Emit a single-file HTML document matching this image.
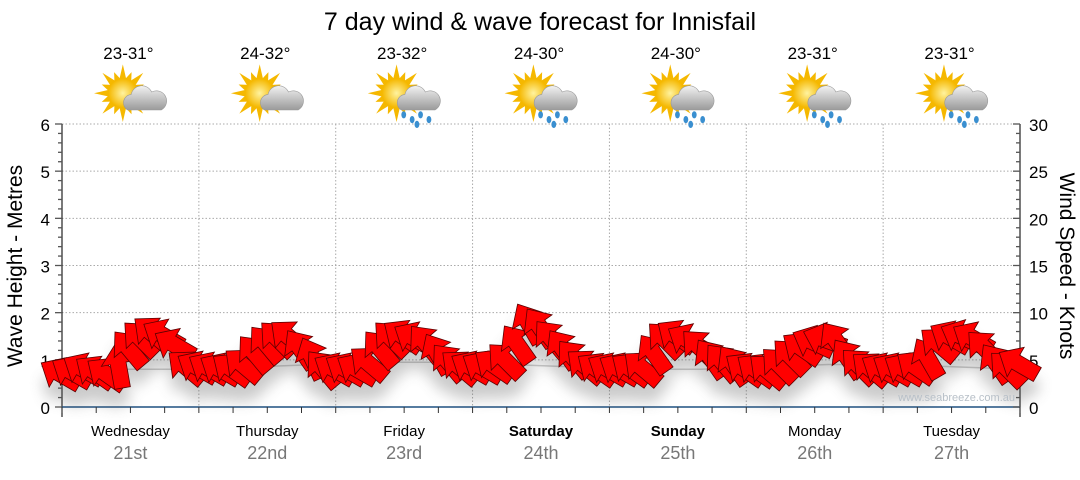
<!DOCTYPE html>
<html><head><meta charset="utf-8"><style>
body{margin:0;background:#fff;}
svg text{font-family:"Liberation Sans",sans-serif;}
</style></head><body>
<svg id="c" width="1080" height="475" xmlns="http://www.w3.org/2000/svg">
<defs>
<filter id="sh" x="-20%" y="-50%" width="140%" height="200%"><feGaussianBlur stdDeviation="7"/></filter>
<radialGradient id="sun" cx="50%" cy="50%" r="50%"><stop offset="0" stop-color="#fff3a0"/><stop offset="1" stop-color="#f5b800"/></radialGradient>
<linearGradient id="cloud" x1="0" y1="0" x2="0" y2="1"><stop offset="0" stop-color="#f2f2f2"/><stop offset="1" stop-color="#9a9a9a"/></linearGradient>
</defs>
<text x="540" y="30" font-size="25" text-anchor="middle" fill="#000">7 day wind &amp; wave forecast for Innisfail</text>
<g id="grid"></g><g id="axes"></g><g id="icons"></g><g id="shadow" filter="url(#sh)" opacity="0.3"></g><g id="arrows"></g>
<text x="1015" y="401" font-size="11" text-anchor="end" fill="#b8c0c8">www.seabreeze.com.au</text>
<text transform="translate(22,266) rotate(-90)" font-size="21" text-anchor="middle">Wave Height - Metres</text>
<text transform="translate(1060,266) rotate(90)" font-size="21" text-anchor="middle">Wind Speed - Knots</text>
</svg>
<script>
const days=["Wednesday","Thursday","Friday","Saturday","Sunday","Monday","Tuesday"];
const dates=["21st","22nd","23rd","24th","25th","26th","27th"];
const temps=["23-31°","24-32°","23-32°","24-30°","24-30°","23-31°","23-31°"];
const rainy=[false,false,true,true,true,true,true];
const boldDays=[false,false,false,true,true,false,false];
const windSpeed=[3.4,3.6,3.9,3.6,3.4,4.1,6.0,7.1,7.7,7.5,6.5,4.1,
4.1,4.0,3.9,3.9,4.3,5.5,6.5,7.1,7.3,6.0,5.0,3.9,
3.9,3.9,3.9,4.5,6.0,7.1,7.4,7.2,6.6,5.5,4.6,4.1,
4.1,4.1,4.3,4.8,6.5,8.7,8.3,7.1,6.0,5.0,4.2,3.9,
3.9,3.9,3.9,4.0,5.5,7.0,7.4,7.0,6.2,5.0,4.6,4.3,
3.9,3.8,3.7,4.3,5.2,6.1,6.8,7.1,6.8,5.0,4.2,3.9,
3.9,3.9,3.9,4.1,5.0,6.5,7.3,7.4,7.2,6.1,4.5,3.9,4.5];
const windDir=[-60,-60,-60,-55,-55,-10,-40,-45,-50,-60,-60,-50,
-60,-60,-60,-55,-50,-40,-40,-45,-50,-35,-25,-40,
-60,-60,-60,-50,-40,-45,-55,-60,-40,-30,-40,-50,
-60,-60,-55,-45,-35,-30,-35,-40,-35,-40,-50,-55,
-60,-60,-55,-50,-35,-45,-55,-60,-45,-35,-40,-35,
-55,-55,-50,-45,-45,-55,-65,-70,-35,-35,-45,-50,
-60,-60,-60,-55,-30,-50,-60,-65,-60,-45,-35,-45,-60];
const waveHeight=[0.8,0.8,0.8,0.85,0.9,0.95,0.95,0.9,0.85,0.8,0.8,0.85,0.9,0.9,0.85,0.8];
const yTicks=[0,1,2,3,4,5,6];
const kTicks=[0,5,10,15,20,25,30];
const NS="http://www.w3.org/2000/svg";
const X0=62,X1=1020,Y0=407,Y1=124;
const dw=(X1-X0)/7;
const ym=v=>Y0-(Y0-Y1)*v/6;
const yk=v=>Y0-(Y0-Y1)*v/30;
const xt=i=>X0+dw*i/12;
function mk(p,tag,a,txt){const e=document.createElementNS(NS,tag);for(const k in a)e.setAttribute(k,a[k]);if(txt!==undefined)e.textContent=txt;document.getElementById(p).appendChild(e);return e;}
for(const v of yTicks){if(v>0){const l=mk('grid','line',{x1:X0,x2:X1,y1:ym(v),y2:ym(v),stroke:'#aaa','stroke-dasharray':'1.5,2'});

}
const t=mk('axes','text',{x:50,y:ym(v)+7,'font-size':17,'text-anchor':'end'},v);

}
for(let d=1;d<7;d++){const l=mk('grid','line',{x1:X0+dw*d,x2:X0+dw*d,y1:Y1,y2:Y0,stroke:'#aaa','stroke-dasharray':'1.5,2'});

}
for(const v of kTicks){const t=mk('axes','text',{x:1029,y:yk(v)+7,'font-size':17},v);

}
mk('axes','line',{x1:X0,x2:X0,y1:Y1,y2:Y0+10,stroke:'#222','stroke-width':1.2});
mk('axes','line',{x1:X1,x2:X1,y1:Y1,y2:Y0+10,stroke:'#222','stroke-width':1.2});
mk('axes','line',{x1:X0,x2:X1,y1:Y0,y2:Y0,stroke:'#1f5080','stroke-width':1.5});
for(let i=0;i<=30;i++){const y=ym(i/5);const big=i%5==0;mk('axes','line',{x1:X0-(big?7:4),x2:X0,y1:y,y2:y,stroke:'#555','stroke-width':1.3});mk('axes','line',{x1:X1-(i%5==0?7:4),x2:X1,y1:y,y2:y,stroke:'#555','stroke-width':1.3});}
for(let i=0;i<=28;i++){const x=X0+dw*i/4;mk('axes','line',{x1:x,x2:x,y1:Y0,y2:Y0+6,stroke:'#333'});}
days.forEach((d,i)=>{const cx=X0+dw*(i+0.5);
const t=mk('axes','text',{x:cx,y:436,'font-size':15,'text-anchor':'middle','font-weight':boldDays[i]?'bold':'normal'},d);


const t2=mk('axes','text',{x:cx,y:459,'font-size':18,'text-anchor':'middle',fill:'#777'},dates[i]);


const t3=mk('icons','text',{x:cx-2,y:59,'font-size':17,'text-anchor':'middle'},temps[i]);


const g=mk('icons','g',{transform:`translate(${cx+2},98) scale(1.2)`});


const sub=(tag,a)=>{const e=document.createElementNS(NS,tag);for(const k in a)e.setAttribute(k,a[k]);g.appendChild(e);};
for(let r=0;r<16;r++){const a=r*Math.PI/8;sub('polygon',{points:`${-8+Math.cos(a)*11-Math.sin(a)*3},${-4+Math.sin(a)*11+Math.cos(a)*3} ${-8+Math.cos(a)*(r%2?19:24)},${-4+Math.sin(a)*(r%2?19:24)} ${-8+Math.cos(a)*11+Math.sin(a)*3},${-4+Math.sin(a)*11-Math.cos(a)*3}`,fill:'#f5b800'});}
sub('circle',{cx:-8,cy:-4,r:12,fill:'url(#sun)'});
sub('path',{d:'M-4,10 a7,7 0 0 1 3,-13 a9,9 0 0 1 17,-2 a8,8 0 0 1 8,15 z',fill:'url(#cloud)',stroke:'#999','stroke-width':0.5});
if(rainy[i]){for(const [dx,dy] of [[-2,14],[5,18],[12,14],[19,18],[9,22]])sub('ellipse',{cx:dx,cy:dy,rx:2,ry:3,fill:'#3a8fd0'});}
});
const wp=waveHeight.map((v,i)=>`${X0+(X1-X0)*i/(waveHeight.length-1)},${ym(v)}`).join(' ');
const wl=mk('grid','polyline',{points:wp,fill:'none',stroke:'#ccc','stroke-width':1.5});


const shape='0,-24 17,-5 8,-5 8,20 -8,20 -8,-5 -17,-5';
windSpeed.forEach((s,i)=>{const x=xt(i),y=yk(s);
mk('shadow','polygon',{points:shape,transform:`translate(${x},${y+16}) rotate(${windDir[i]})`,fill:'#555'});
const p=mk('arrows','polygon',{points:shape,transform:`translate(${x},${y}) rotate(${windDir[i]})`,fill:'#ff0000',stroke:'#5a0000','stroke-width':0.8});


});
</script>
</body></html>
